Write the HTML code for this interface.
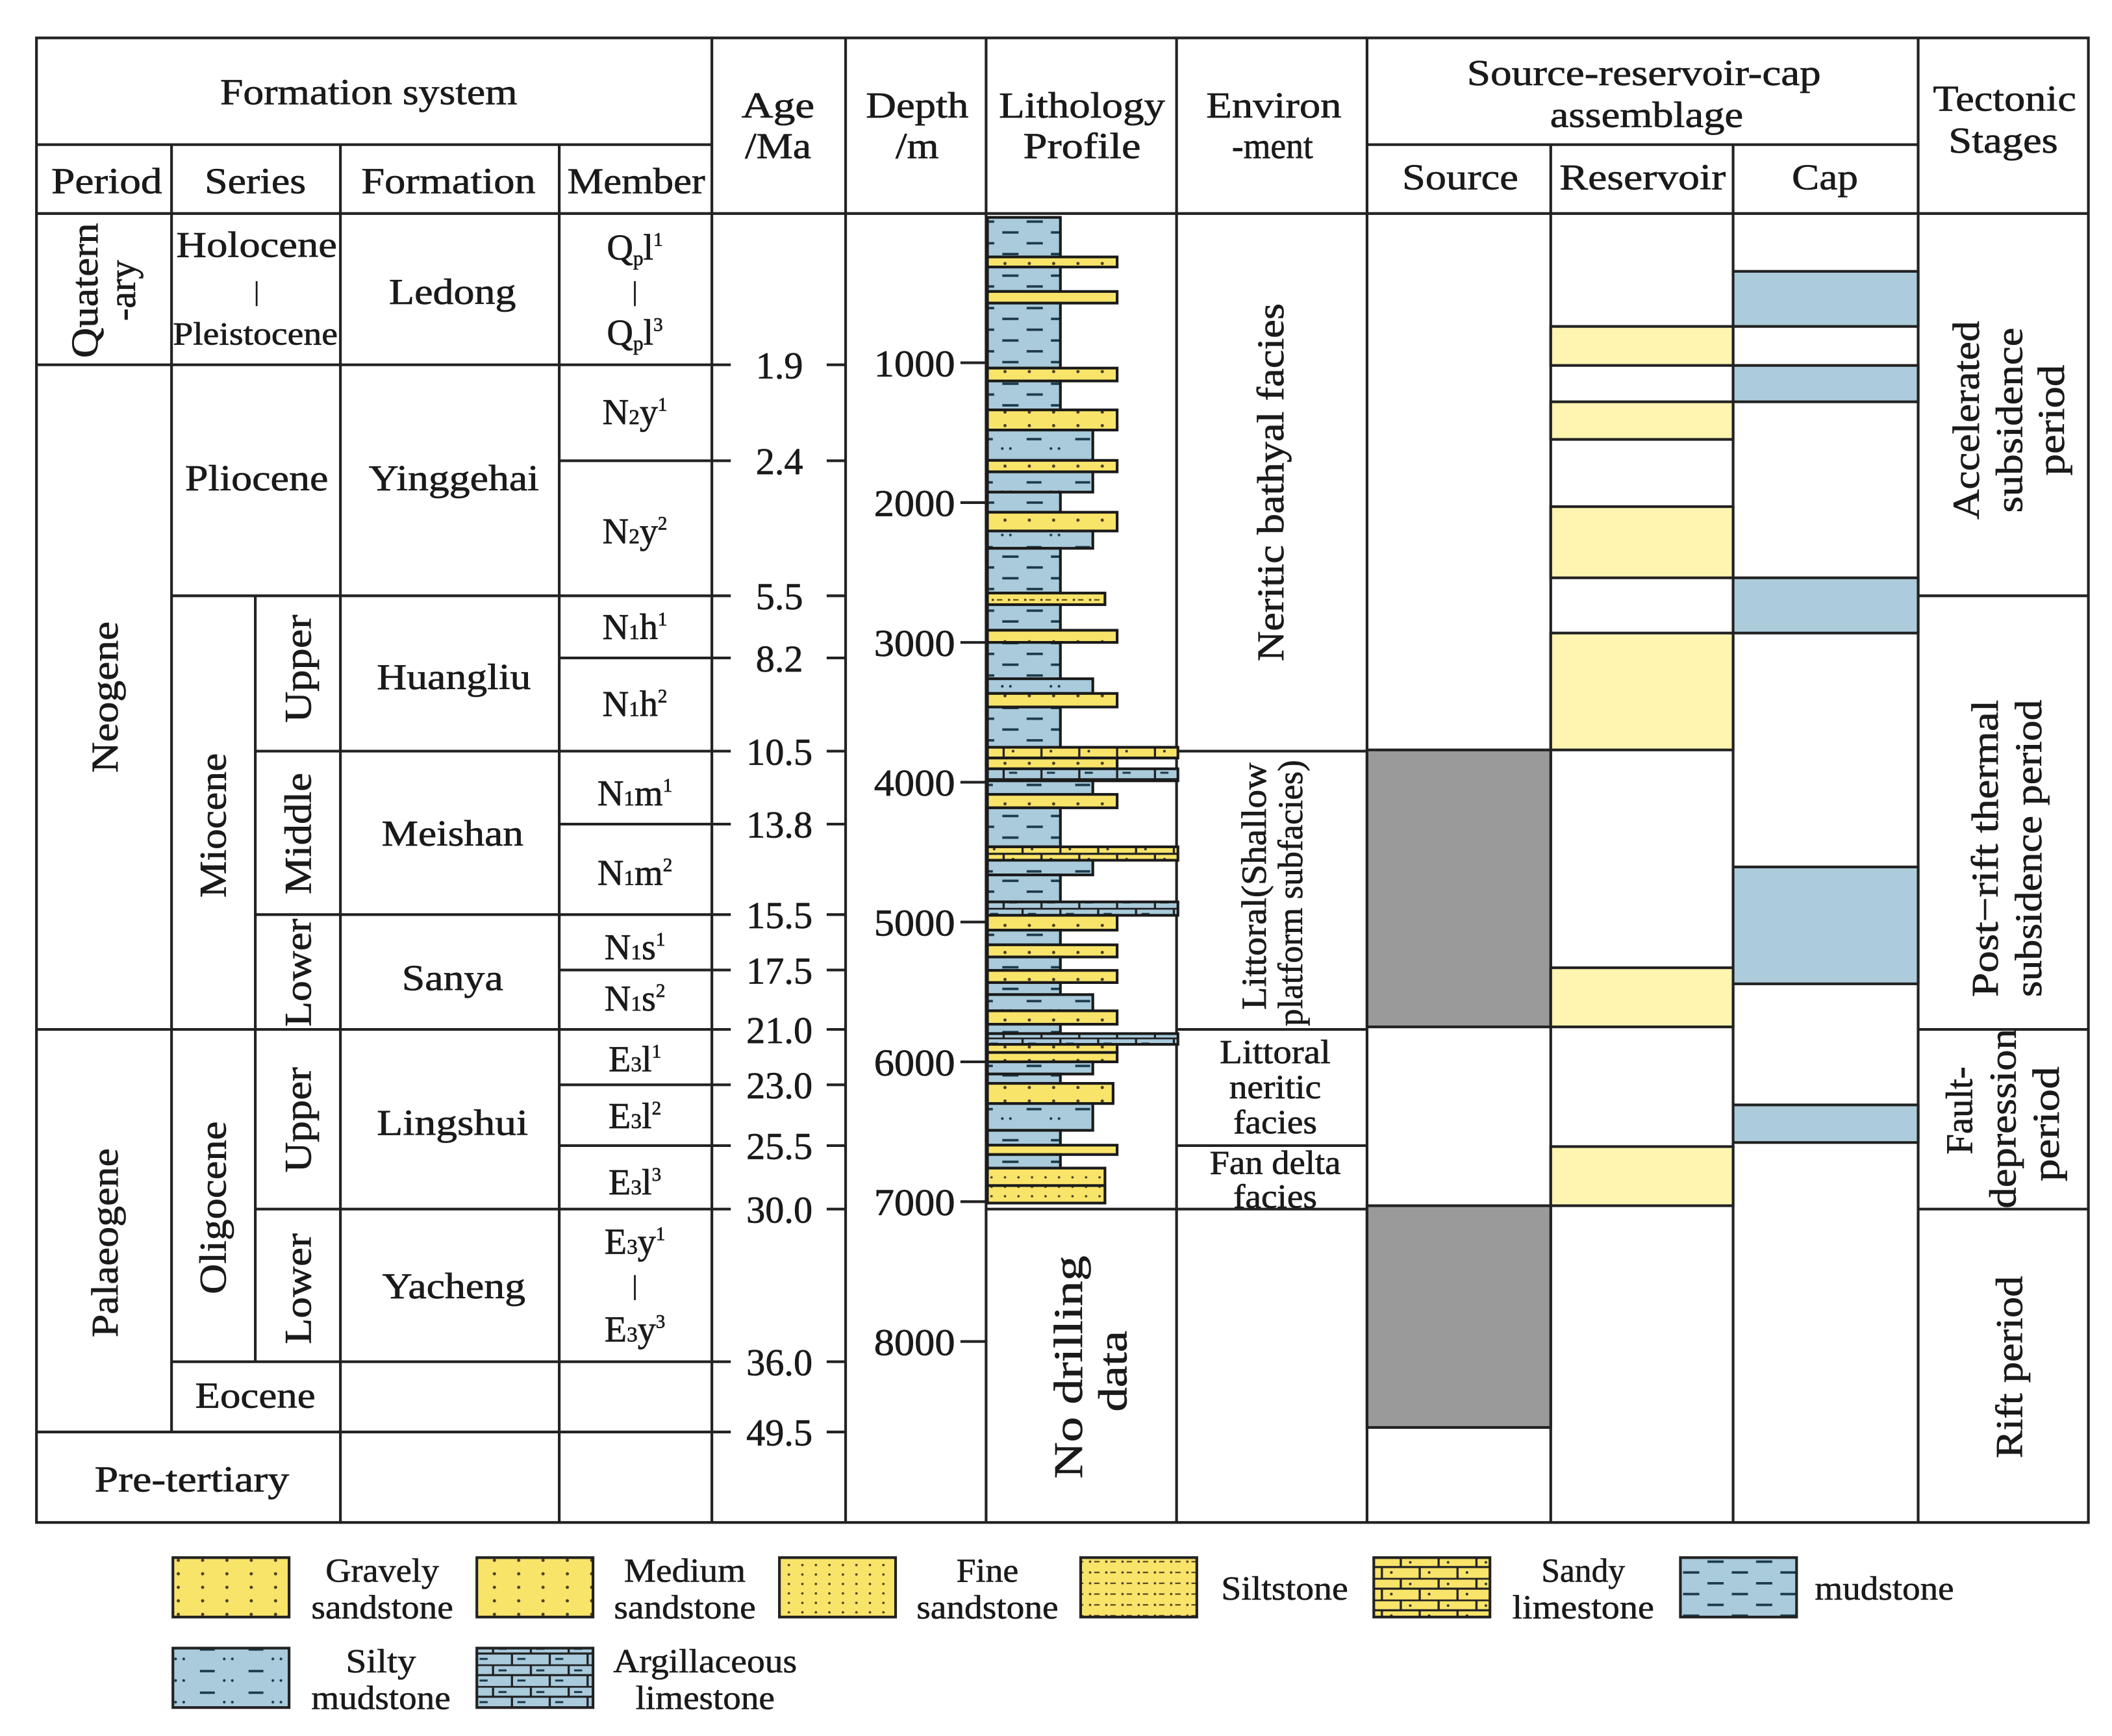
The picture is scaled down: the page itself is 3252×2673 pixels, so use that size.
<!DOCTYPE html>
<html><head><meta charset="utf-8">
<style>
html,body{margin:0;padding:0;background:#fff;}
svg{display:block;}
text{font-family:"Liberation Serif",serif;fill:#1a1a1a;}
</style></head>
<body>
<svg id="chart" xmlns="http://www.w3.org/2000/svg" width="3252" height="2673" viewBox="0 0 1563.5 1285">
<defs>
<pattern id="pMud" width="36" height="16" patternUnits="userSpaceOnUse">
<rect width="36" height="16" fill="#a9cbdc"/>
<line x1="4" y1="4" x2="16" y2="4" stroke="#1e3a4a" stroke-width="1.8"/>
<line x1="22" y1="12" x2="34" y2="12" stroke="#1e3a4a" stroke-width="1.8"/>
</pattern>
<pattern id="pSilty" width="36" height="16" patternUnits="userSpaceOnUse">
<rect width="36" height="16" fill="#a9cbdc"/>
<line x1="4" y1="5" x2="15" y2="5" stroke="#1e3a4a" stroke-width="1.8"/>
<circle cx="22" cy="12" r="1" fill="#1e3a4a"/><circle cx="28" cy="12" r="1" fill="#1e3a4a"/>
</pattern>
<pattern id="pSand" width="18" height="10" patternUnits="userSpaceOnUse">
<rect width="18" height="10" fill="#f9e46a"/>
<circle cx="6" cy="5" r="1.2" fill="#4a4020"/>
</pattern>
<pattern id="pFine" width="10" height="7" patternUnits="userSpaceOnUse">
<rect width="10" height="7" fill="#f9e46a"/>
<circle cx="4" cy="3.5" r="0.9" fill="#4a4020"/>
</pattern>
<pattern id="pSiltst" width="12" height="8" patternUnits="userSpaceOnUse">
<rect width="12" height="8" fill="#f9e46a"/>
<circle cx="3" cy="4" r="0.9" fill="#4a4020"/><line x1="6" y1="4" x2="10" y2="4" stroke="#4a4020" stroke-width="1"/>
</pattern>
<pattern id="pSandLime" width="28" height="16" patternUnits="userSpaceOnUse">
<rect width="28" height="16" fill="#f9e46a"/>
<line x1="0" y1="0.5" x2="28" y2="0.5" stroke="#222" stroke-width="1.6"/>
<line x1="0" y1="8" x2="28" y2="8" stroke="#222" stroke-width="1.6"/>
<line x1="1" y1="0" x2="1" y2="8" stroke="#222" stroke-width="1.6"/>
<line x1="15" y1="8" x2="15" y2="16" stroke="#222" stroke-width="1.6"/>
<circle cx="8" cy="4.5" r="1" fill="#333"/><circle cx="22" cy="12" r="1" fill="#333"/>
</pattern>
<pattern id="pArgLime" width="28" height="16" patternUnits="userSpaceOnUse">
<rect width="28" height="16" fill="#a9cbdc"/>
<line x1="0" y1="0.5" x2="28" y2="0.5" stroke="#222" stroke-width="1.6"/>
<line x1="0" y1="8" x2="28" y2="8" stroke="#222" stroke-width="1.6"/>
<line x1="1" y1="0" x2="1" y2="8" stroke="#222" stroke-width="1.6"/>
<line x1="15" y1="8" x2="15" y2="16" stroke="#222" stroke-width="1.6"/>
<line x1="5" y1="4.5" x2="11" y2="4.5" stroke="#1e3a4a" stroke-width="1.5"/>
<line x1="19" y1="12" x2="25" y2="12" stroke="#1e3a4a" stroke-width="1.5"/>
</pattern>
</defs>
<g id="grid" stroke="#222" stroke-width="2" fill="none"></g>
<g id="marks"></g>
<g id="labels" font-size="27" text-anchor="middle" stroke="#1a1a1a" stroke-width="0.35"></g>
<g id="legend" stroke="#1a1a1a" stroke-width="0.3"></g>
</svg>
<script>
// ---- data ----
const ageLabels = ["1.9","2.4","5.5","8.2","10.5","13.8","15.5","17.5","21.0","23.0","25.5","30.0","36.0","49.5"];
const depthTicks = [1000,2000,3000,4000,5000,6000,7000,8000];
const layerTop  = [-40,243,315,490,573,1038,1130,1337,1481,1698,1780,1925,2069,2203,2327,2647,2730,2913,3000,3260,3365,3462,3750,3827,3904,3990,4087,4183,4462,4558,4663,4856,4952,5058,5163,5250,5346,5433,5519,5635,5731,5798,5875,5933,6000,6087,6154,6298,6490,6596,6663,6760,6885];
const layerBase = [243,315,490,573,1038,1130,1337,1481,1698,1780,1925,2069,2203,2327,2647,2730,2913,3000,3260,3365,3462,3750,3827,3904,3990,4087,4183,4462,4558,4663,4856,4952,5058,5163,5250,5346,5433,5519,5635,5731,5798,5875,5933,6000,6087,6154,6298,6490,6596,6663,6760,6885,7010];
const layerType = ["M","S","M","S","M","S","M","S","SM","S","SM","M","S","SM","M","ST","M","S","M","SM","S","M","SL","S","AL","SM","S","M","SL","SM","M","AL","S","M","S","M","S","M","SM","S","M","AL","S","S","SM","M","G","SM","M","S","M","FS","FS"];
const sourceTop = [3769,7029], sourceBase = [5750,8615];
const reservoirTop = [740,1279,2029,2933,5327,6606], reservoirBase = [1019,1548,2538,3769,5750,7029];
const capTop = [346,1019,2538,4606,6308], capBase = [740,1279,2933,5442,6577];

// ---- scale ----
const y = d => 165 + d*0.1035;
const NS="http://www.w3.org/2000/svg";
function el(tag, attrs, parent, txt){const e=document.createElementNS(NS,tag);for(const k in attrs)e.setAttribute(k,attrs[k]);if(txt!==undefined)e.textContent=txt;parent.appendChild(e);return e;}
const grid=document.getElementById('grid'), marks=document.getElementById('marks'), labels=document.getElementById('labels'), legend=document.getElementById('legend');

function L(x1,y1,x2,y2,name){const l=el('line',{x1,y1,x2,y2},grid);}
const outer=el('rect',{x:27,y:28,width:1519,height:1099},grid);


L(127,107,127,1060,'column-divider');
[252,414,1148,1283].forEach(x=>L(x,107,x,1127,'column-divider'));
[527,626,730,871,1012,1420].forEach(x=>L(x,28,x,1127,'column-divider'));
L(27,107,527,107,'header-divider');L(1012,107,1420,107,'header-divider');L(27,158,1546,158,'header-bottom');
L(189,441,189,1008,'subseries-divider');
L(27,270,541,270);L(414,341,541,341);L(127,441,541,441);L(414,487,541,487);L(189,556,541,556);
L(414,610,541,610);L(189,677,541,677);L(414,718,541,718);L(27,762,541,762);L(414,803,541,803);
L(414,848,541,848);L(189,895,541,895);L(127,1008,541,1008);L(27,1060,541,1060);
L(871,556,1012,556);L(871,762,1012,762);L(871,848,1012,848);L(871,895,1012,895);L(730,895,871,895);
L(1420,441,1546,441);L(1420,762,1546,762);L(1420,895,1546,895);
const ageY=[270,341,441,487,556,610,677,718,762,803,848,895,1008,1060];
ageLabels.forEach((a,i)=>{
  const t=el('text',{x:577,y:ageY[i]+10,'font-size':28},labels,a);
  
  
  L(612,ageY[i],626,ageY[i],'age-tick');
});
depthTicks.forEach(d=>{
  const t=el('text',{x:677,y:y(d)+10,'font-size':28,textLength:60,lengthAdjust:'spacingAndGlyphs'},labels,String(d));
  
  
  L(711,y(d),730,y(d),'depth-tick');
});

const fillOf={M:'url(#pMud)',SM:'url(#pSilty)',S:'url(#pSand)',G:'url(#pSand)',FS:'url(#pFine)',ST:'url(#pSiltst)',SL:'url(#pSandLime)',AL:'url(#pArgLime)'};
const widthOf={M:54,SM:78,S:96,G:93,FS:87,ST:87,SL:141,AL:141};
layerType.forEach((t,i)=>{
  const r=el('rect',{x:731,y:y(layerTop[i]),width:widthOf[t],height:y(layerBase[i])-y(layerTop[i]),fill:fillOf[t],stroke:'#1a1a1a','stroke-width':2},marks);
  
  
});
function boxes(tops,bases,x,w,fill,name){tops.forEach((t,i)=>{
  const r=el('rect',{x,y:y(t),width:w,height:y(bases[i])-y(t),fill,stroke:'#222','stroke-width':2},marks);
  
  
});}
boxes(sourceTop,sourceBase,1012,136,'#9a9a9a','source-interval');
boxes(reservoirTop,reservoirBase,1148,135,'#fff5b0','reservoir-interval');
boxes(capTop,capBase,1283,137,'#acccdb','cap-interval');

function T(x,yy,s,name,len,fs){const a={x,y:yy};if(len){a.textLength=len;a.lengthAdjust='spacingAndGlyphs';}if(fs)a['font-size']=fs;const t=el('text',a,labels);t.innerHTML=s;return t;}
function R(x,yy,s,name,len,fs){const a={x:0,y:0,transform:`translate(${x},${yy}) rotate(-90)`,'font-size':fs||28};if(len){a.textLength=len;a.lengthAdjust='spacingAndGlyphs';}const t=el('text',a,labels);t.innerHTML=s;}
T(273,77,'Formation system','header-formation-system',220);
T(79,143,'Period','header-period',82);T(189,143,'Series','header-series',75);T(332,143,'Formation','header-formation',129);T(471,143,'Member','header-member',102);
T(576,87,'Age','header-age',54);T(576,117,'/Ma','header-age-unit',49);
T(679,87,'Depth','header-depth',76);T(679,117,'/m','header-depth-unit',32);
T(801,87,'Lithology','header-lithology',123);T(801,117,'Profile','header-profile',87);
T(943,87,'Environ','header-environment',100);T(942,117,'-ment','header-environment',60);
T(1217,63,'Source-reservoir-cap','header-assemblage',262);T(1219,94,'assemblage','header-assemblage',143);
T(1081,140,'Source','header-source',86);T(1216,140,'Reservoir','header-reservoir',123);T(1351,140,'Cap','header-cap',49);
T(1484,82,'Tectonic','header-tectonic',106);T(1483,113,'Stages','header-tectonic',81);
R(72,215,'Quatern','period-quaternary',100);R(100,215,'-ary','period-quaternary',45);
T(190,190,'Holocene','series-holocene',119);T(190,222,'|','series-separator',0,20);T(189,255,'Pleistocene','series-pleistocene',122,24);
T(335,225,'Ledong','formation-ledong',94);
T(470,192,'Q<tspan font-size="15" dy="4">p</tspan><tspan dy="-4">l</tspan><tspan font-size="14" dy="-10">1</tspan>','member-qpl1');
T(470,222,'|','member-separator',0,20);
T(470,255,'Q<tspan font-size="15" dy="4">p</tspan><tspan dy="-4">l</tspan><tspan font-size="14" dy="-10">3</tspan>','member-qpl3');
R(87,516,'Neogene','period-neogene',112);
T(190,363,'Pliocene','series-pliocene',106);T(336,363,'Yinggehai','formation-yinggehai',126);
function mem(yy,a,b,c,name){T(470,yy,`${a}<tspan font-size="16">${b}</tspan>${c.split('^')[0]}<tspan font-size="14" dy="-10">${c.split('^')[1]}</tspan>`,name);}
mem(314,'N','2','y^1','member-n2y1');mem(402,'N','2','y^2','member-n2y2');
R(167,611,'Miocene','series-miocene',107);R(230,495,'Upper','series-upper-miocene',80);R(230,617,'Middle','series-middle-miocene',90);R(230,720,'Lower','series-lower-miocene',80);
T(336,510,'Huangliu','formation-huangliu',114);T(335,626,'Meishan','formation-meishan',105);T(335,733,'Sanya','formation-sanya',75);
mem(473,'N','1','h^1','member-n1h1');mem(530,'N','1','h^2','member-n1h2');
mem(596,'N','1','m^1','member-n1m1');mem(655,'N','1','m^2','member-n1m2');
mem(710,'N','1','s^1','member-n1s1');mem(748,'N','1','s^2','member-n1s2');
R(87,920,'Palaeogene','period-palaeogene',140);R(167,894,'Oligocene','series-oligocene',128);
R(230,829,'Upper','series-upper-oligocene',78);R(230,954,'Lower','series-lower-oligocene',82);
T(335,840,'Lingshui','formation-lingshui',112);T(336,961,'Yacheng','formation-yacheng',106);
mem(793,'E','3','l^1','member-e3l1');mem(835,'E','3','l^2','member-e3l2');mem(884,'E','3','l^3','member-e3l3');
mem(928,'E','3','y^1','member-e3y1');T(470,958,'|','member-separator',0,20);mem(993,'E','3','y^3','member-e3y3');
T(189,1042,'Eocene','series-eocene',89);T(142,1104,'Pre-tertiary','period-pre-tertiary',144);
R(801,1012,'No drilling','no-drilling-data',165,30);R(834,1015,'data','no-drilling-data',60,30);
R(950,357,'Neritic bathyal facies','environment-neritic-bathyal',265);
R(937,656,'Littoral(Shallow','environment-littoral',183,26);R(964,661,'platform subfacies)','environment-littoral',197,26);
T(944,787,'Littoral','environment-littoral-neritic',82,25);T(944,813,'neritic','environment-littoral-neritic',68,25);T(944,839,'facies','environment-littoral-neritic',62,25);
T(944,869,'Fan delta','environment-fan-delta',97,25);T(944,894,'facies','environment-fan-delta',62,25);
R(1465,311,'Accelerated','tectonic-accelerated',147);R(1497,311,'subsidence','tectonic-accelerated',137);R(1528,311,'period','tectonic-accelerated',82);
R(1479,628,'Post−rift thermal','tectonic-post-rift',220);R(1511,628,'subsidence period','tectonic-post-rift',220);
R(1460,822,'Fault-','tectonic-fault-depression',65);R(1492,828,'depression','tectonic-fault-depression',133);R(1524,832,'period','tectonic-fault-depression',85);
R(1497,1012,'Rift period','tectonic-rift',135);

const legX=[128,353,577,800,1017,1244,128,353], legY=[1153,1153,1153,1153,1153,1153,1220,1220];
const legFill=['url(#pSand)','url(#pSand)','url(#pFine)','url(#pSiltst)','url(#pSandLime)','url(#pMud)','url(#pSilty)','url(#pArgLime)'];
const legText=[['Gravely','sandstone'],['Medium','sandstone'],['Fine','sandstone'],['Siltstone'],['Sandy','limestone'],['mudstone'],['Silty','mudstone'],['Argillaceous','limestone']];
const legLen=[[84,105],[90,105],[46,105],[94],[62,105],[103],[52,103],[136,103]];
const legTX=[283,507,731,951,1172,1395,282,522];
legText.forEach((lines,i)=>{
  const r=el('rect',{x:legX[i],y:legY[i],width:86,height:44,fill:legFill[i],stroke:'#222','stroke-width':2},legend);
  
  
  lines.forEach((s,j)=>{
    const yy= lines.length===1? legY[i]+31 : legY[i]+18+j*27;
    const t=el('text',{x:legTX[i],y:yy,'font-size':25,'text-anchor':'middle',textLength:legLen[i][j],lengthAdjust:'spacingAndGlyphs'},legend,s);
    
    
  });
});
</script>
</body></html>
